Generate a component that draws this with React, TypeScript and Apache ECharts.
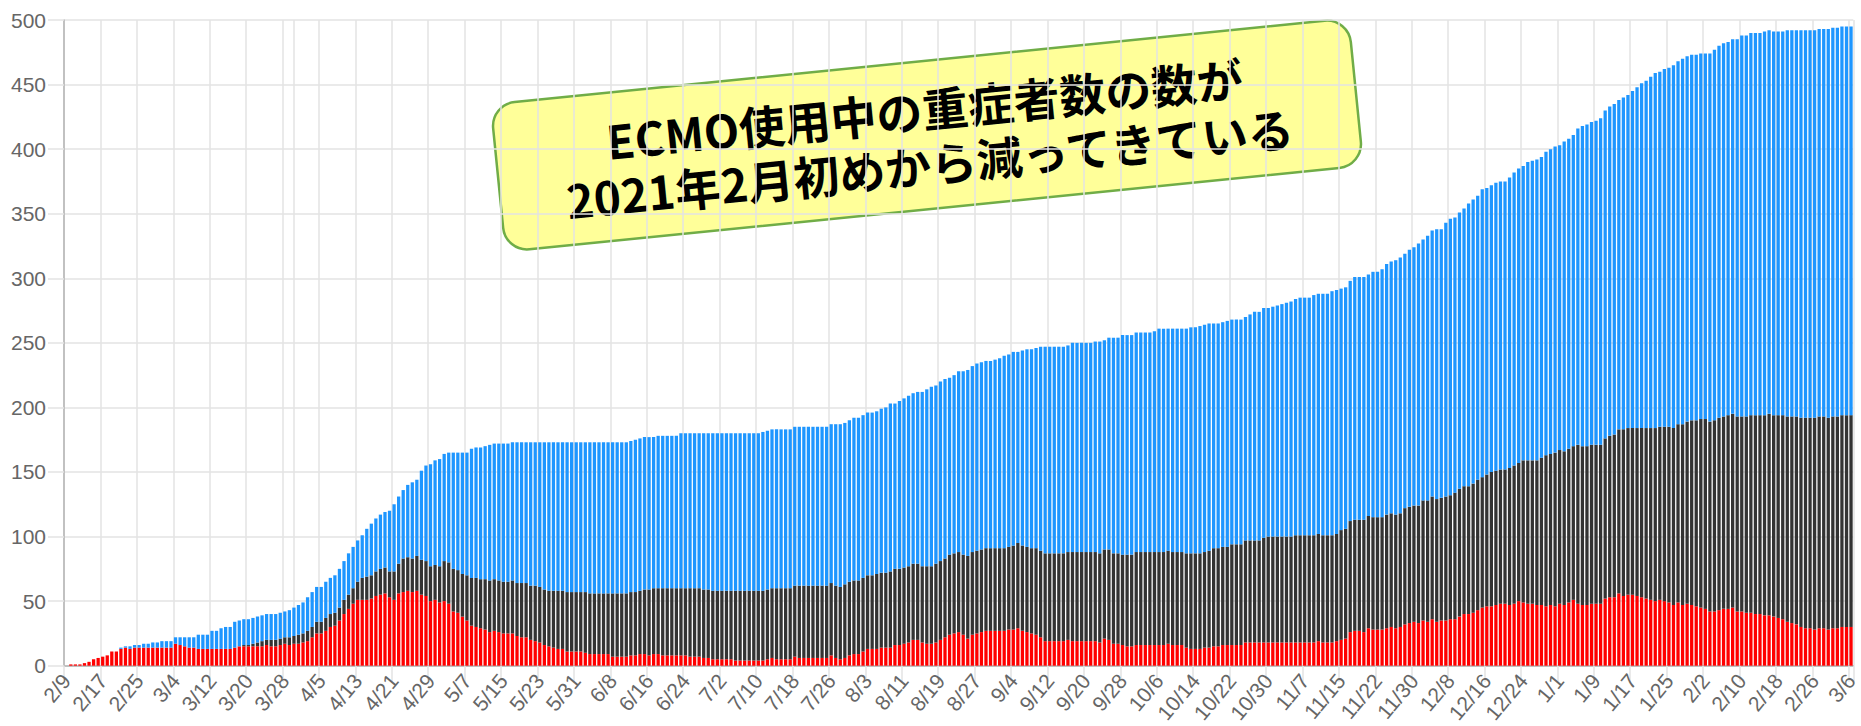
import React, { useEffect, useRef } from "react";
import * as echarts from "echarts";

// Daily categories 2020/2/9 – 2021/3/6 (the source table repeats one row in mid-November)
function buildDates(): string[] {
  const out: string[] = [];
  const d = new Date(2020, 1, 9);
  const end = new Date(2021, 2, 6);
  while (d <= end) {
    const label = `${d.getMonth() + 1}/${d.getDate()}`;
    out.push(label);
    if (label === "11/18") out.push(label);
    d.setDate(d.getDate() + 1);
  }
  return out;
}
const categories: string[] = buildDates();

// ECMO 実施中 (red, bottom)
const ecmoActive: number[] = [
  0, 1, 1, 1, 2, 3, 5, 6,
  7, 8, 11, 11, 13, 14, 13, 14,
  14, 14, 14, 14, 14, 14, 14, 14,
  17, 16, 15, 14, 14, 13, 13, 13,
  13, 13, 13, 13, 13, 14, 15, 15,
  15, 15, 15, 15, 16, 15, 15, 16,
  17, 16, 17, 17, 18, 19, 22, 25,
  25, 27, 30, 31, 35, 40, 44, 48,
  51, 51, 51, 52, 54, 55, 56, 53,
  51, 56, 57, 58, 57, 58, 55, 54,
  50, 51, 49, 50, 48, 42, 41, 38,
  35, 31, 30, 29, 28, 26, 27, 26,
  25, 25, 25, 23, 22, 22, 20, 19,
  18, 16, 15, 14, 13, 13, 11, 11,
  11, 11, 10, 9, 9, 9, 9, 9,
  7, 7, 7, 7, 8, 8, 9, 9,
  8, 9, 9, 8, 8, 8, 8, 8,
  8, 7, 7, 7, 6, 6, 5, 5,
  5, 5, 5, 4, 4, 4, 4, 4,
  4, 4, 5, 6, 5, 5, 5, 5,
  7, 6, 6, 6, 6, 6, 6, 6,
  8, 6, 5, 6, 8, 9, 9, 11,
  13, 13, 13, 14, 14, 14, 16, 16,
  17, 18, 20, 20, 18, 17, 17, 18,
  20, 22, 24, 25, 26, 24, 21, 24,
  25, 26, 27, 27, 27, 27, 27, 28,
  28, 29, 27, 26, 25, 24, 22, 19,
  19, 19, 19, 19, 20, 19, 19, 19,
  19, 19, 19, 18, 21, 20, 17, 17,
  16, 15, 15, 16, 16, 16, 16, 16,
  16, 16, 17, 16, 16, 16, 14, 13,
  13, 13, 14, 14, 15, 15, 16, 16,
  16, 16, 16, 18, 18, 18, 18, 18,
  18, 18, 18, 18, 18, 18, 18, 18,
  18, 18, 18, 19, 18, 18, 18, 19,
  20, 21, 26, 27, 27, 26, 29, 28,
  28, 28, 29, 30, 29, 30, 32, 33,
  34, 33, 35, 34, 36, 34, 35, 35,
  36, 36, 38, 40, 40, 41, 43, 45,
  46, 46, 47, 48, 48, 47, 48, 50,
  49, 48, 48, 47, 47, 46, 47, 46,
  48, 47, 49, 51, 48, 47, 47, 48,
  48, 48, 52, 53, 53, 56, 54, 55,
  55, 54, 53, 52, 51, 50, 51, 50,
  49, 47, 49, 47, 48, 47, 46, 45,
  44, 42, 42, 43, 44, 44, 45, 42,
  42, 41, 41, 40, 40, 39, 39, 38,
  37, 36, 34, 33, 32, 30, 29, 29,
  28, 29, 29, 28, 29, 29, 30, 30,
  30,
];

// 死亡 (dark, middle)
const deaths: number[] = [
  0, 0, 0, 0, 0, 0, 0, 0,
  0, 0, 0, 0, 0, 0, 0, 0,
  0, 0, 0, 0, 0, 0, 0, 0,
  0, 0, 0, 0, 0, 0, 0, 0,
  0, 0, 0, 0, 0, 0, 0, 1,
  1, 2, 3, 4, 4, 5, 5, 5,
  5, 6, 6, 7, 7, 8, 8, 9,
  9, 10, 10, 10, 10, 11, 11, 12,
  14, 17, 18, 18, 19, 20, 20, 20,
  22, 23, 26, 26, 26, 27, 27, 27,
  27, 27, 28, 31, 32, 33, 33, 33,
  35, 37, 38, 38, 39, 40, 40, 40,
  40, 40, 41, 41, 42, 42, 42, 43,
  43, 43, 43, 44, 45, 45, 46, 46,
  46, 46, 47, 47, 47, 47, 47, 47,
  49, 49, 49, 49, 49, 49, 49, 50,
  51, 51, 51, 52, 52, 52, 52, 52,
  52, 53, 53, 53, 53, 53, 53, 53,
  53, 53, 53, 54, 54, 54, 54, 54,
  54, 54, 54, 54, 55, 55, 55, 55,
  55, 56, 56, 56, 56, 56, 56, 56,
  56, 56, 56, 57, 57, 57, 57, 57,
  57, 57, 58, 58, 58, 59, 59, 59,
  59, 59, 59, 59, 59, 60, 60, 61,
  61, 61, 62, 62, 62, 62, 64, 64,
  64, 64, 64, 64, 64, 64, 64, 64,
  65, 66, 66, 66, 66, 67, 67, 68,
  68, 68, 68, 68, 68, 69, 69, 69,
  69, 69, 69, 69, 69, 70, 70, 70,
  70, 71, 71, 72, 72, 72, 72, 72,
  72, 72, 72, 72, 72, 72, 73, 74,
  74, 74, 74, 75, 76, 76, 76, 76,
  78, 78, 78, 79, 79, 79, 79, 81,
  82, 82, 82, 82, 82, 82, 83, 83,
  83, 83, 83, 83, 83, 83, 83, 83,
  85, 85, 86, 86, 86, 87, 87, 87,
  87, 87, 88, 88, 88, 88, 90, 90,
  90, 91, 93, 94, 95, 95, 95, 96,
  96, 98, 99, 99, 99, 100, 101, 101,
  102, 104, 104, 104, 104, 106, 107, 107,
  110, 111, 111, 112, 114, 117, 117, 119,
  119, 119, 119, 119, 123, 123, 123, 123,
  123, 123, 124, 125, 126, 127, 129, 129,
  129, 130, 131, 132, 133, 134, 134, 135,
  136, 137, 138, 140, 141, 143, 144, 146,
  147, 147, 148, 149, 149, 150, 150, 151,
  151, 152, 153, 154, 154, 155, 156, 156,
  157, 158, 159, 160, 161, 162, 163, 163,
  164, 164, 164, 164, 164, 164, 164, 164,
  164,
];

// 離脱 (blue, top)
const weaned: number[] = [
  0, 0, 0, 0, 0, 0, 0, 0,
  0, 0, 0, 0, 1, 1, 2, 2,
  2, 3, 3, 4, 4, 5, 5, 5,
  5, 6, 7, 8, 8, 11, 11, 11,
  14, 14, 16, 17, 17, 20, 20, 20,
  20, 20, 20, 20, 20, 20, 20, 20,
  20, 21, 22, 23, 24, 26, 27, 27,
  27, 28, 28, 29, 30, 30, 32, 32,
  32, 33, 37, 40, 41, 42, 43, 47,
  52, 52, 53, 56, 59, 59, 69, 74,
  79, 81, 83, 83, 85, 90, 91, 94,
  95, 100, 101, 102, 103, 105, 105, 106,
  107, 107, 107, 109, 109, 109, 111, 111,
  112, 114, 115, 115, 115, 115, 116, 116,
  116, 116, 116, 117, 117, 117, 117, 117,
  117, 117, 117, 117, 117, 118, 118, 118,
  118, 117, 118, 118, 118, 118, 118, 120,
  120, 120, 120, 120, 121, 121, 122, 122,
  122, 122, 122, 122, 122, 122, 122, 122,
  122, 123, 123, 123, 123, 123, 123, 123,
  123, 123, 123, 123, 123, 123, 123, 123,
  123, 125, 126, 125, 125, 126, 126, 126,
  126, 126, 126, 127, 128, 130, 128, 130,
  131, 132, 132, 133, 135, 137, 139, 138,
  139, 139, 137, 138, 140, 142, 144, 144,
  145, 145, 145, 145, 146, 147, 149, 149,
  150, 148, 151, 153, 154, 155, 158, 160,
  160, 160, 160, 160, 160, 162, 162, 162,
  162, 162, 163, 164, 162, 164, 167, 167,
  170, 170, 170, 170, 170, 170, 170, 171,
  173, 173, 172, 173, 173, 173, 174, 175,
  175, 176, 176, 176, 174, 174, 174, 175,
  174, 174, 174, 173, 175, 177, 177, 178,
  177, 178, 179, 180, 181, 182, 183, 184,
  184, 184, 186, 186, 187, 187, 189, 189,
  187, 187, 186, 188, 188, 188, 187, 190,
  190, 192, 194, 195, 197, 198, 197, 199,
  200, 203, 202, 205, 206, 209, 208, 212,
  214, 213, 214, 215, 219, 220, 220, 223,
  222, 222, 223, 223, 223, 225, 227, 228,
  228, 231, 232, 233, 233, 235, 236, 237,
  236, 240, 240, 241, 245, 248, 249, 250,
  251, 253, 254, 255, 256, 255, 257, 258,
  261, 264, 267, 269, 272, 275, 275, 277,
  278, 281, 281, 283, 283, 283, 283, 283,
  283, 285, 287, 288, 289, 289, 290, 292,
  295, 295, 296, 296, 296, 297, 297, 297,
  297, 297, 299, 299, 299, 300, 300, 300,
  300, 300, 300, 301, 301, 301, 301, 301,
  301,
];

const yTicks = { min: 0, max: 500, interval: 50 };
const noteLines: string[] = ["ECMO使用中の重症者数の数が", "2021年2月初めから減ってきている"];
const extraGridCategory = "3/30";

const AXIS_FONT = "'Liberation Sans', Arial, Helvetica, sans-serif";
const GRID_COLOR = "#e3e3e3";
const AXIS_COLOR = "#b3b3b3";
const LABEL_COLOR = "#666666";

export default function App() {
  const ref = useRef<HTMLDivElement | null>(null);

  useEffect(() => {
    if (!ref.current) return;
    const chart = echarts.init(ref.current, undefined, { renderer: "svg" });
    const option: any = {
      animation: false,
      backgroundColor: "#ffffff",
      grid: { left: 64, right: 2.5, top: 20, bottom: 56, containLabel: false },
      xAxis: {
        type: "category",
        data: categories,
        boundaryGap: true,
        axisLine: { show: true, lineStyle: { color: AXIS_COLOR, width: 1.5 } },
        axisTick: { show: true, interval: 7, length: 16, lineStyle: { color: GRID_COLOR, width: 1.5 } },
        axisLabel: {
          interval: 7,
          rotate: 50,
          margin: 11,
          color: LABEL_COLOR,
          fontSize: 21,
          fontFamily: AXIS_FONT,
        },
        splitLine: { show: true, interval: 7, lineStyle: { color: GRID_COLOR, width: 1.5 } },
      },
      yAxis: {
        type: "value",
        min: yTicks.min,
        max: yTicks.max,
        interval: yTicks.interval,
        axisLine: { show: true, lineStyle: { color: AXIS_COLOR, width: 1.5 } },
        axisTick: { show: true, length: 16, lineStyle: { color: GRID_COLOR, width: 1.5 } },
        axisLabel: { margin: 18, color: LABEL_COLOR, fontSize: 21, fontFamily: AXIS_FONT },
        splitLine: { show: true, lineStyle: { color: GRID_COLOR, width: 1.5 } },
      },
      series: [
        {
          name: "ECMO実施中",
          type: "bar",
          stack: "total",
          data: ecmoActive,
          barCategoryGap: "28%",
          itemStyle: { color: "#ff0000" },
        },
        {
          name: "死亡",
          type: "bar",
          stack: "total",
          data: deaths,
          barCategoryGap: "28%",
          itemStyle: { color: "#333333" },
        },
        {
          name: "離脱",
          type: "bar",
          stack: "total",
          data: weaned,
          barCategoryGap: "28%",
          itemStyle: { color: "#1e96ff" },
          markLine: {
            silent: true,
            symbol: "none",
            z: 1,
            label: { show: false },
            lineStyle: { color: GRID_COLOR, width: 1.5, type: "solid" },
            data: [{ xAxis: extraGridCategory }],
          },
        },
      ],
      graphic: [
        {
          type: "group",
          x: 927,
          y: 135,
          rotation: 0.1,
          z: 100,
          children: [
            {
              type: "rect",
              shape: { x: -431, y: -74, width: 862, height: 148, r: 24 },
              style: { fill: "#ffff99", stroke: "#70ad47", lineWidth: 2.5 },
            },
            {
              type: "text",
              x: 0,
              y: -27,
              style: {
                text: noteLines[0],
                fill: "#000000",
                fontSize: 46,
                fontWeight: "bold",
                fontFamily: "'Noto Sans CJK JP', sans-serif",
                align: "center",
                verticalAlign: "middle",
              },
            },
            {
              type: "text",
              x: 0,
              y: 28,
              style: {
                text: noteLines[1],
                fill: "#000000",
                fontSize: 46,
                fontWeight: "bold",
                fontFamily: "'Noto Sans CJK JP', sans-serif",
                align: "center",
                verticalAlign: "middle",
              },
            },
          ],
        },
      ],
    };
    chart.setOption(option);
    return () => chart.dispose();
  }, []);

  return (
    <div
      ref={ref}
      style={{ position: "absolute", left: 0, top: 0, width: 1861, height: 726, background: "#ffffff" }}
    />
  );
}
